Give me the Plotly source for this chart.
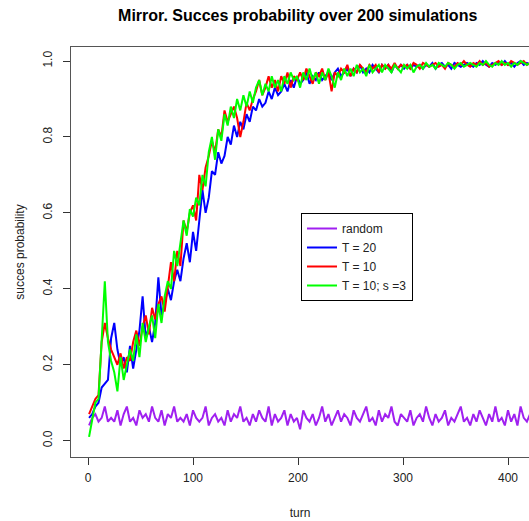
import plotly.graph_objects as go

turns = list(range(1, 422, 3))

random_p = [
    0.04, 0.06, 0.07, 0.05, 0.06, 0.09, 0.05, 0.06, 0.05, 0.08,
    0.04, 0.07, 0.09, 0.05, 0.06, 0.04, 0.08, 0.06, 0.07, 0.05,
    0.09, 0.06, 0.05, 0.08, 0.04, 0.07, 0.06, 0.09, 0.05, 0.06,
    0.05, 0.07, 0.04, 0.08, 0.06, 0.05, 0.06, 0.09, 0.04, 0.06,
    0.07, 0.05, 0.06, 0.04, 0.08, 0.05, 0.07, 0.06, 0.09, 0.05,
    0.06, 0.04, 0.07, 0.05, 0.08, 0.06, 0.05, 0.09, 0.04, 0.07,
    0.05, 0.06, 0.08, 0.04, 0.07, 0.05, 0.06, 0.03, 0.08, 0.06,
    0.05, 0.07, 0.04, 0.06, 0.09, 0.05, 0.07, 0.04, 0.06, 0.08,
    0.05, 0.07, 0.06, 0.04, 0.08, 0.06, 0.05, 0.07, 0.09, 0.05,
    0.06, 0.04, 0.08, 0.05, 0.07, 0.06, 0.09, 0.05, 0.04, 0.07,
    0.06, 0.05, 0.08, 0.04, 0.06, 0.07, 0.05, 0.09, 0.06, 0.04,
    0.07, 0.05, 0.06, 0.08, 0.04, 0.06, 0.05, 0.07, 0.09, 0.05,
    0.06, 0.04, 0.07, 0.05, 0.08, 0.06, 0.04, 0.07, 0.05, 0.09,
    0.05, 0.06, 0.04, 0.08, 0.05, 0.07, 0.04, 0.09, 0.06, 0.05,
    0.07,
]

t20 = [
    0.06, 0.07, 0.09, 0.10, 0.14, 0.15, 0.16, 0.27, 0.31, 0.24,
    0.20, 0.22, 0.18, 0.25, 0.19, 0.24, 0.29, 0.38, 0.27, 0.30,
    0.26, 0.31, 0.43, 0.33, 0.36, 0.40, 0.37, 0.42, 0.45, 0.42,
    0.48, 0.52, 0.47, 0.55, 0.50, 0.58, 0.66, 0.60, 0.64, 0.71,
    0.70, 0.76, 0.73, 0.75, 0.80, 0.78, 0.83, 0.80, 0.84, 0.82,
    0.86, 0.84, 0.88, 0.87, 0.90, 0.88, 0.89, 0.92, 0.90, 0.93,
    0.91, 0.92, 0.94, 0.92, 0.95, 0.93, 0.96, 0.94, 0.95, 0.97,
    0.94, 0.96, 0.95, 0.97, 0.95, 0.96, 0.97, 0.95, 0.97, 0.98,
    0.96, 0.97, 0.98, 0.96, 0.98, 0.97, 0.99, 0.97, 0.98, 0.97,
    0.99, 0.98, 0.97, 0.99, 0.98, 0.99, 0.97, 0.99, 0.98, 0.99,
    0.98, 0.99, 0.98, 0.99, 0.985, 0.99, 0.98, 0.99, 0.985, 0.995,
    0.98, 0.99, 0.995, 0.985, 0.99, 0.98, 0.995, 0.99, 0.985, 0.99,
    0.995, 0.99, 0.985, 0.995, 0.99, 1.0, 0.99, 0.985, 0.995, 0.99,
    0.995, 0.99, 1.0, 0.99, 0.995, 0.985, 0.995, 1.0, 0.99, 0.995,
    0.99,
]

t10 = [
    0.07, 0.09, 0.11, 0.12, 0.26, 0.31, 0.27, 0.24, 0.22, 0.20,
    0.23, 0.19, 0.22, 0.21, 0.26, 0.29, 0.25, 0.30, 0.33, 0.28,
    0.35, 0.32, 0.36, 0.38, 0.34, 0.40, 0.47, 0.42, 0.50, 0.46,
    0.58, 0.55, 0.60, 0.62, 0.58, 0.70, 0.66, 0.72, 0.75, 0.79,
    0.76, 0.82, 0.80, 0.87, 0.84, 0.86, 0.88, 0.85, 0.80, 0.84,
    0.89, 0.87, 0.90, 0.92, 0.95, 0.91, 0.93, 0.96, 0.93, 0.95,
    0.92, 0.96, 0.94, 0.97, 0.93, 0.96, 0.95, 0.97, 0.95, 0.98,
    0.96, 0.94, 0.97, 0.96, 0.98, 0.95, 0.97, 0.92, 0.97, 0.96,
    0.98, 0.97, 0.99, 0.96, 0.98, 0.97, 0.99, 0.98, 0.97, 0.99,
    0.98, 0.99, 0.97, 0.99, 0.98, 0.99, 0.98, 0.995, 0.98, 0.99,
    0.985, 0.99, 0.98, 0.995, 0.99, 0.98, 0.995, 0.99, 0.985, 0.99,
    0.995, 0.985, 0.99, 0.98, 0.995, 0.99, 0.985, 0.995, 0.99, 1.0,
    0.99, 0.985, 0.995, 0.99, 1.0, 0.99, 0.995, 0.985, 0.99, 0.995,
    1.0, 0.99, 0.995, 0.99, 1.0, 0.995, 0.99, 0.995, 1.0, 0.99,
    0.995,
]

t10_s3 = [
    0.01, 0.06, 0.10, 0.11, 0.28, 0.42, 0.26, 0.21, 0.18, 0.13,
    0.22, 0.16, 0.20, 0.24, 0.21, 0.28, 0.22, 0.31, 0.26, 0.30,
    0.33, 0.27, 0.36, 0.31, 0.38, 0.42, 0.40, 0.50, 0.46, 0.52,
    0.58, 0.54, 0.61, 0.59, 0.64, 0.62, 0.70, 0.67, 0.76, 0.80,
    0.74, 0.82, 0.79, 0.86, 0.83, 0.88, 0.85, 0.90, 0.87, 0.91,
    0.88, 0.92, 0.89, 0.93, 0.95, 0.91, 0.94, 0.92, 0.96, 0.93,
    0.95, 0.92, 0.96, 0.94, 0.97, 0.95, 0.96, 0.93, 0.97, 0.95,
    0.98, 0.95, 0.97, 0.94, 0.97, 0.95, 0.98, 0.96, 0.93, 0.97,
    0.95, 0.98, 0.96, 0.98, 0.96, 0.99, 0.97, 0.98, 0.96, 0.99,
    0.97, 0.98, 0.99, 0.97, 0.99, 0.98, 0.97, 0.99, 0.98, 0.97,
    0.99, 0.98, 0.99, 0.97, 0.985, 0.99, 0.98, 0.995, 0.985, 0.99,
    0.98, 0.995, 0.99, 0.985, 0.995, 0.99, 0.98, 0.99, 0.995, 0.985,
    0.99, 0.995, 0.99, 0.985, 0.995, 0.99, 1.0, 0.99, 0.985, 0.995,
    0.99, 1.0, 0.99, 0.995, 0.985, 0.995, 0.99, 1.0, 0.995, 0.99,
    0.995,
]

series_names = ["random", "T = 20", "T = 10", "T = 10; s =3"]
series_values = [random_p, t20, t10, t10_s3]
series_colors = ["#A020F0", "#0000FF", "#FF0000", "#00FF00"]

y_ticks = [0.0, 0.2, 0.4, 0.6, 0.8, 1.0]
y_ticktext = ["0.0", "0.2", "0.4", "0.6", "0.8", "1.0"]
x_ticks = [0, 100, 200, 300, 400]

FONT = "Liberation Sans, Arial, sans-serif"

fig = go.Figure()
for name, vals, col in zip(series_names, series_values, series_colors):
    fig.add_trace(go.Scatter(x=turns, y=vals, mode="lines", name=name,
                             line=dict(color=col, width=2)))

fig.update_layout(
    width=529, height=521,
    margin=dict(l=71, r=0, t=47, b=64, autoexpand=False),
    paper_bgcolor="white", plot_bgcolor="white",
    font=dict(family=FONT, size=12, color="#222"),
    title=dict(text="<b>Mirror. Succes probability over 200 simulations</b>",
               x=297.7 / 529, xanchor="center", xref="container",
               y=1 - 15.5 / 521, yanchor="middle", yref="container",
               font=dict(size=16, color="black")),
    showlegend=True,
    legend=dict(x=(301 - 71) / 458, y=(457 - 213) / 410,
                xanchor="left", yanchor="top",
                bordercolor="black", borderwidth=1, bgcolor="white",
                font=dict(size=12, color="#222"), tracegroupgap=0),
)
fig.update_xaxes(range=[-16.2, 420], tickvals=x_ticks, ticks="outside",
                 ticklen=7, tickcolor="#333", showline=True, linecolor="#555",
                 linewidth=1, mirror=True, showgrid=False, zeroline=False,
                 ticklabelstandoff=3, automargin=False,
                 title=dict(text="turn", standoff=24, font=dict(size=12)))
fig.update_yaxes(range=[-0.043, 1.037], tickvals=y_ticks, ticktext=y_ticktext,
                 tickangle=-90, ticks="outside", ticklen=7, tickcolor="#333",
                 showline=True, linecolor="#555", linewidth=1, mirror=False,
                 showgrid=False, zeroline=False, ticklabelstandoff=6,
                 automargin=False,
                 title=dict(text="succes probability", standoff=14,
                            font=dict(size=12)))

fig.write_html("out.html",
               config={"displayModeBar": False},
               post_script="document.body.style.margin='0';"
                           "document.body.style.padding='0';")
